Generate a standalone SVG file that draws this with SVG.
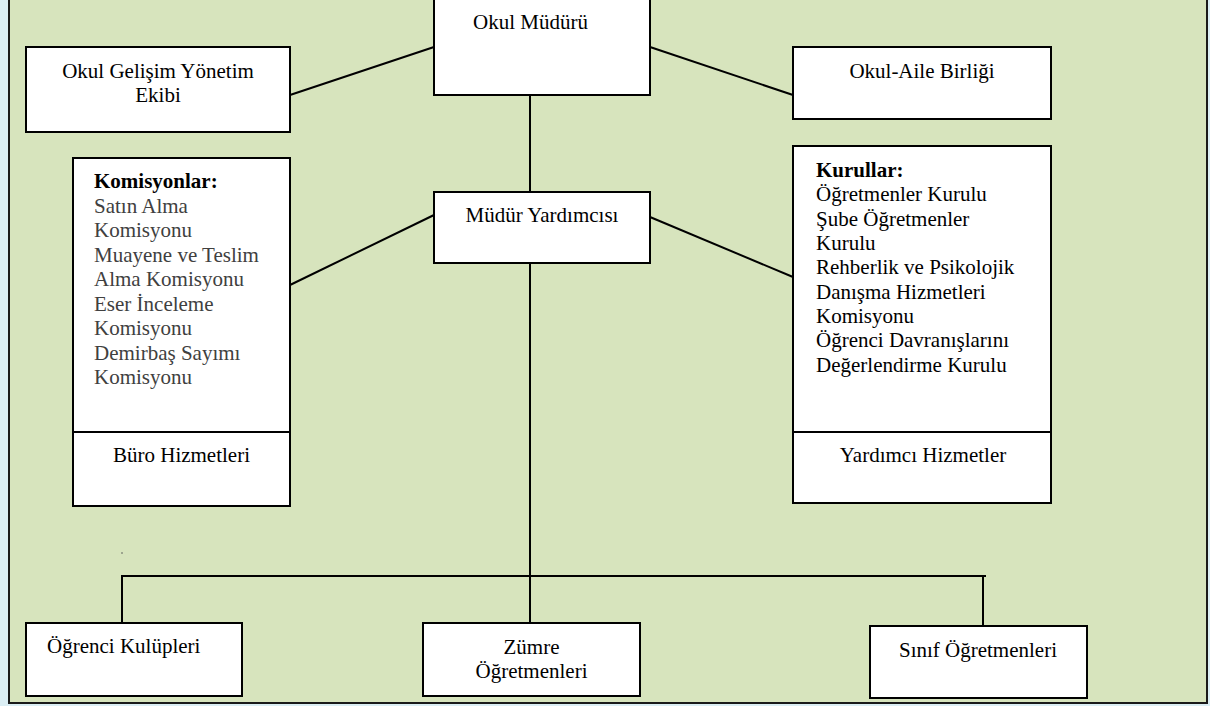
<svg xmlns="http://www.w3.org/2000/svg" width="1210" height="706" viewBox="0 0 1210 706">
<style>
.box{fill:#fff;stroke:#000;stroke-width:2}
.ln{stroke:#000;stroke-width:2;fill:none}
text{font-family:"Liberation Serif","Times New Roman",serif;font-size:21px;fill:#000}
.c{text-anchor:middle}
.g{fill:#404040}
.b{font-weight:bold}
</style>
<rect x="0" y="0" width="1210" height="706" fill="#DBEEF4"/>
<rect x="9" y="-2" width="1198" height="705" fill="#D7E4BD" stroke="#1a1a1a" stroke-width="2"/>
<g id="connectors">
<line class="ln" x1="290" y1="95" x2="434" y2="47"/>
<line class="ln" x1="650" y1="47" x2="793" y2="95"/>
<line class="ln" x1="530" y1="95" x2="530" y2="192"/>
<line class="ln" x1="434" y1="215" x2="290" y2="285"/>
<line class="ln" x1="650" y1="217" x2="793" y2="277"/>
<line class="ln" x1="530" y1="263" x2="530" y2="623"/>
<polyline class="ln" points="122,623 122,576 986,576"/>
<line class="ln" x1="983" y1="576" x2="983" y2="626"/>
</g>
<circle cx="122" cy="553" r="0.8" fill="#555"/>
<g id="okul-muduru">
<rect class="box" x="434" y="-2" width="216" height="97"/>
<text x="473" y="29">Okul Müdürü</text>
</g>
<g id="okul-gelisim">
<rect class="box" x="26" y="47" width="264" height="85"/>
<text class="c" x="158" y="78">Okul Gelişim Yönetim</text>
<text class="c" x="158" y="102">Ekibi</text>
</g>
<g id="okul-aile">
<rect class="box" x="793" y="47" width="258" height="72"/>
<text class="c" x="922" y="78">Okul-Aile Birliği</text>
</g>
<g id="mudur-yardimcisi">
<rect class="box" x="434" y="192" width="216" height="71"/>
<text class="c" x="542" y="222">Müdür Yardımcısı</text>
</g>
<g id="komisyonlar">
<rect class="box" x="73" y="158" width="217" height="348"/>
<line class="ln" x1="73" y1="432" x2="290" y2="432"/>
<text class="b" x="94" y="188">Komisyonlar:</text>
<text class="g" x="94" y="212.5">Satın Alma</text>
<text class="g" x="94" y="237">Komisyonu</text>
<text class="g" x="94" y="261.5">Muayene ve Teslim</text>
<text class="g" x="94" y="286">Alma Komisyonu</text>
<text class="g" x="94" y="310.5">Eser İnceleme</text>
<text class="g" x="94" y="335">Komisyonu</text>
<text class="g" x="94" y="359.5">Demirbaş Sayımı</text>
<text class="g" x="94" y="384">Komisyonu</text>
<text class="c" x="181.5" y="462">Büro Hizmetleri</text>
</g>
<g id="kurullar">
<rect class="box" x="793" y="146" width="258" height="357"/>
<line class="ln" x1="793" y1="432" x2="1051" y2="432"/>
<text class="b" x="816" y="177">Kurullar:</text>
<text x="816" y="201">Öğretmenler Kurulu</text>
<text x="816" y="225.5">Şube Öğretmenler</text>
<text x="816" y="250">Kurulu</text>
<text x="816" y="274">Rehberlik ve Psikolojik</text>
<text x="816" y="298.5">Danışma Hizmetleri</text>
<text x="816" y="323">Komisyonu</text>
<text x="816" y="347">Öğrenci Davranışlarını</text>
<text x="816" y="371.5">Değerlendirme Kurulu</text>
<text class="c" x="923" y="462">Yardımcı Hizmetler</text>
</g>
<g id="ogrenci-kulupleri">
<rect class="box" x="26" y="623" width="216" height="73"/>
<text x="47" y="653">Öğrenci Kulüpleri</text>
</g>
<g id="zumre">
<rect class="box" x="423" y="623" width="217" height="73"/>
<text class="c" x="531.5" y="654">Zümre</text>
<text class="c" x="531.5" y="678">Öğretmenleri</text>
</g>
<g id="sinif">
<rect class="box" x="870" y="626" width="217" height="72"/>
<text class="c" x="978" y="657">Sınıf Öğretmenleri</text>
</g>
</svg>
